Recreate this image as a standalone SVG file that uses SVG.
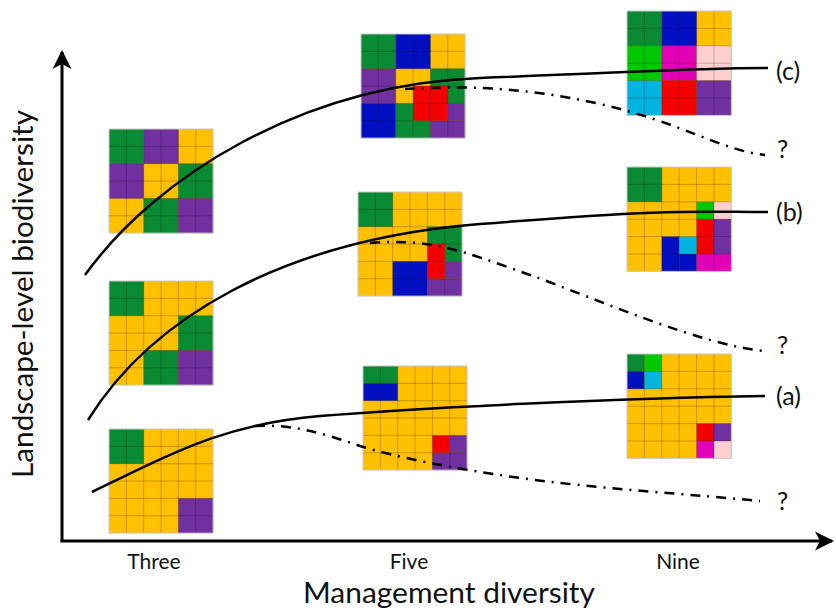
<svg xmlns="http://www.w3.org/2000/svg" xmlns:xlink="http://www.w3.org/1999/xlink" width="836" height="613" viewBox="0 0 836 613">
<style>
.bg{fill:#FFC000}
.G{fill:#0A8A32}.P{fill:#7030A0}.B{fill:#0010C0}.R{fill:#F50000}
.LG{fill:#00C800}.M{fill:#E200B4}.Pk{fill:#FFCECE}.C{fill:#00B4E0}
.gl{fill:none;stroke:#000;stroke-opacity:0.22;stroke-width:1}
.gb{fill:none;stroke:#c8c8c8;stroke-width:1}
.axis{fill:none;stroke:#000;stroke-width:3}
.solid{fill:none;stroke:#000;stroke-width:2.5}
.dd{fill:none;stroke:#000;stroke-width:2.5;stroke-dasharray:10 7 2 7}
text{font-family:Lato,"Open Sans",sans-serif;fill:#111}
.tick{font-size:21px;text-anchor:middle}
.lab{font-size:25px}
</style>
<defs>
<g id="lines">
<path class="gl" vector-effect="non-scaling-stroke" d="M1 0V6M2 0V6M3 0V6M4 0V6M5 0V6M0 1H6M0 2H6M0 3H6M0 4H6M0 5H6"/>
<rect class="gb" vector-effect="non-scaling-stroke" width="6" height="6"/>
</g>
<marker id="arr" markerUnits="userSpaceOnUse" markerWidth="24" markerHeight="24" refX="0" refY="0" viewBox="-20 -12 24 24" orient="auto">
<path d="M2,0 L-17,-9.5 L-12,0 L-17,9.5 Z" fill="#000"/>
</marker>
</defs>

<g id="grid-three-top" transform="translate(109,129) scale(17.35)">
<rect class="bg" width="6" height="6"/>
<rect class="G" x="0" y="0" width="2" height="2"/><rect class="P" x="2" y="0" width="2" height="2"/>
<rect class="P" x="0" y="2" width="2" height="2"/><rect class="G" x="4" y="2" width="2" height="2"/>
<rect class="G" x="2" y="4" width="2" height="2"/><rect class="P" x="4" y="4" width="2" height="2"/>
<use xlink:href="#lines"/>
</g>
<g id="grid-three-mid" transform="translate(109,281) scale(17.35)">
<rect class="bg" width="6" height="6"/>
<rect class="G" x="0" y="0" width="2" height="2"/><rect class="G" x="4" y="2" width="2" height="2"/>
<rect class="G" x="2" y="4" width="2" height="2"/><rect class="P" x="4" y="4" width="2" height="2"/>
<use xlink:href="#lines"/>
</g>
<g id="grid-three-bottom" transform="translate(109,429) scale(17.35)">
<rect class="bg" width="6" height="6"/>
<rect class="G" x="0" y="0" width="2" height="2"/><rect class="P" x="4" y="4" width="2" height="2"/>
<use xlink:href="#lines"/>
</g>

<g id="grid-five-top" transform="translate(361,34) scale(17.35)">
<rect class="bg" width="6" height="6"/>
<rect class="G" x="0" y="0" width="2" height="2"/><rect class="B" x="2" y="0" width="2" height="2"/>
<rect class="P" x="0" y="2" width="2" height="2"/><rect class="G" x="4" y="2" width="2" height="2"/>
<rect class="R" x="3" y="3" width="2" height="2"/>
<rect class="B" x="0" y="4" width="2" height="2"/><rect class="G" x="2" y="4" width="1" height="2"/><rect class="G" x="3" y="5" width="1" height="1"/>
<rect class="P" x="5" y="4" width="1" height="1"/><rect class="P" x="4" y="5" width="2" height="1"/>
<use xlink:href="#lines"/>
</g>
<g id="grid-five-mid" transform="translate(358,192) scale(17.35)">
<rect class="bg" width="6" height="6"/>
<rect class="G" x="0" y="0" width="2" height="2"/><rect class="G" x="4" y="2" width="2" height="1"/><rect class="G" x="5" y="3" width="1" height="1"/>
<rect class="R" x="4" y="3" width="1" height="2"/><rect class="B" x="2" y="4" width="2" height="2"/>
<rect class="P" x="5" y="4" width="1" height="1"/><rect class="P" x="4" y="5" width="2" height="1"/>
<use xlink:href="#lines"/>
</g>
<g id="grid-five-bottom" transform="translate(363,366) scale(17.35)">
<rect class="bg" width="6" height="6"/>
<rect class="G" x="0" y="0" width="2" height="1"/><rect class="B" x="0" y="1" width="2" height="1"/>
<rect class="R" x="4" y="4" width="1" height="1"/><rect class="P" x="5" y="4" width="1" height="1"/><rect class="P" x="4" y="5" width="2" height="1"/>
<use xlink:href="#lines"/>
</g>

<g id="grid-nine-top" transform="translate(627,11) scale(17.4)">
<rect class="bg" width="6" height="6"/>
<rect class="G" x="0" y="0" width="2" height="2"/><rect class="B" x="2" y="0" width="2" height="2"/>
<rect class="LG" x="0" y="2" width="2" height="2"/><rect class="M" x="2" y="2" width="2" height="2"/><rect class="Pk" x="4" y="2" width="2" height="2"/>
<rect class="C" x="0" y="4" width="2" height="2"/><rect class="R" x="2" y="4" width="2" height="2"/><rect class="P" x="4" y="4" width="2" height="2"/>
<use xlink:href="#lines"/>
</g>
<g id="grid-nine-mid" transform="translate(627,167) scale(17.4)">
<rect class="bg" width="6" height="6"/>
<rect class="G" x="0" y="0" width="2" height="2"/>
<rect class="LG" x="4" y="2" width="1" height="1"/><rect class="Pk" x="5" y="2" width="1" height="1"/>
<rect class="R" x="4" y="3" width="1" height="2"/><rect class="P" x="5" y="3" width="1" height="2"/>
<rect class="B" x="2" y="4" width="1" height="2"/><rect class="C" x="3" y="4" width="1" height="1"/><rect class="B" x="3" y="5" width="1" height="1"/>
<rect class="M" x="4" y="5" width="2" height="1"/>
<use xlink:href="#lines"/>
</g>
<g id="grid-nine-bottom" transform="translate(627,354) scale(17.4)">
<rect class="bg" width="6" height="6"/>
<rect class="G" x="0" y="0" width="1" height="1"/><rect class="LG" x="1" y="0" width="1" height="1"/>
<rect class="B" x="0" y="1" width="1" height="1"/><rect class="C" x="1" y="1" width="1" height="1"/>
<rect class="R" x="4" y="4" width="1" height="1"/><rect class="P" x="5" y="4" width="1" height="1"/>
<rect class="M" x="4" y="5" width="1" height="1"/><rect class="Pk" x="5" y="5" width="1" height="1"/>
<use xlink:href="#lines"/>
</g>

<g id="connectors">
<path class="axis" d="M62,541 V52" marker-end="url(#arr)"/>
<path class="axis" d="M60.5,541 H832" marker-end="url(#arr)"/>
<path class="solid" d="M85,275 C155,178 300,85 480,78 S700,68 768,68"/>
<path class="solid" d="M88,420 C150,320 280,240 480,224 S700,212 768,212"/>
<path class="solid" d="M92,492 C175,452 225,424 320,416 S620,398 765,396"/>
<path class="dd" d="M405,89 C460,86 520,86 600,104 S720,150 765,155"/>
<path class="dd" d="M370,243 C430,238 460,250 530,275 S700,345 765,351"/>
<path class="dd" d="M255,426 C290,424 320,432 360,446 C400,458 450,468 520,478 S700,495 760,501"/>
</g>

<g id="labels">
<text class="tick" x="154" y="569">Three</text>
<text class="tick" x="409" y="569">Five</text>
<text class="tick" x="678" y="569">Nine</text>
<text x="449" y="603" font-size="29" text-anchor="middle" textLength="292" lengthAdjust="spacingAndGlyphs">Management diversity</text>
<text transform="translate(33,294) rotate(-90)" font-size="29" text-anchor="middle" textLength="368" lengthAdjust="spacingAndGlyphs">Landscape-level biodiversity</text>
<text class="lab" x="776" y="80">(c)</text>
<text class="lab" x="776" y="221">(b)</text>
<text class="lab" x="776" y="405">(a)</text>
<text class="lab" x="777" y="158">?</text>
<text class="lab" x="777" y="354">?</text>
<text class="lab" x="777" y="510">?</text>
</g>
</svg>
